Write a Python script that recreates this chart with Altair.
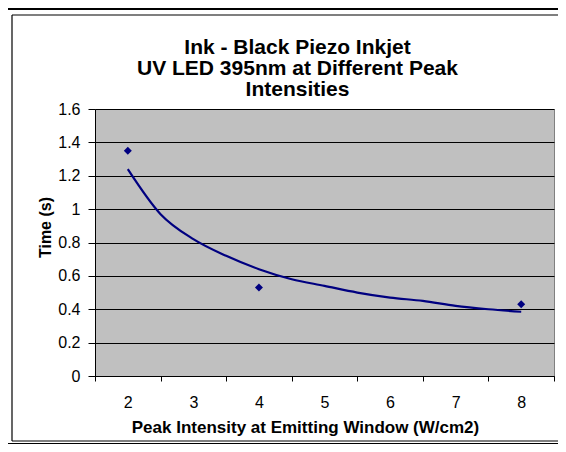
import altair as alt
import pandas as pd

# measured points
intensity = [2, 4, 8]
time_s = [1.35, 0.53, 0.43]

# trendline
trend_x = [2, 2.5, 3, 3.5, 4, 4.5, 5, 5.5, 6, 6.5, 7, 7.5, 8]
trend_y = [1.24, 0.97, 0.82, 0.72, 0.64, 0.58, 0.54, 0.50, 0.47, 0.45, 0.42, 0.40, 0.385]

x_ticks = [1.5, 2, 2.5, 3, 3.5, 4, 4.5, 5, 5.5, 6, 6.5, 7, 7.5, 8, 8.5]
y_ticks = [0, 0.2, 0.4, 0.6, 0.8, 1.0, 1.2, 1.4, 1.6]

title_lines = ["Ink - Black Piezo Inkjet", "UV LED 395nm at Different Peak", "Intensities"]
x_title = "Peak Intensity at Emitting Window (W/cm2)"
y_title = "Time (s)"

pts = pd.DataFrame({"x": intensity, "y": time_s})
trend = pd.DataFrame({"x": trend_x, "y": trend_y})

FONT = "Liberation Sans"
NAVY = "#000080"

x_enc = alt.X(
    "x:Q",
    scale=alt.Scale(domain=[1.5, 8.5], nice=False, zero=False),
    axis=alt.Axis(
        title=x_title,
        values=x_ticks,
        labelExpr="datum.value % 1 === 0 ? format(datum.value, 'd') : ''",
        tickOpacity={"condition": {"test": "datum.value % 1 === 0", "value": 0}, "value": 1},
        labelOverlap=False,
        labelFlush=False,
        grid=False,
        tickSize=5,
        tickColor="black",
        domainColor="black",
        labelFont=FONT,
        labelFontSize=16,
        labelColor="black",
        labelBaseline="alphabetic",
        labelPadding=26,
        titleFont=FONT,
        titleFontSize=17,
        titleFontWeight="bold",
        titleColor="black",
        titleX=210,
        titleY=56,
        titleBaseline="alphabetic",
        titleAlign="center",
    ),
)
y_enc = alt.Y(
    "y:Q",
    scale=alt.Scale(domain=[0, 1.6], nice=False),
    axis=alt.Axis(
        title=y_title,
        values=y_ticks,
        format="~g",
        labelOverlap=False,
        grid=True,
        gridColor="black",
        gridWidth=1,
        tickSize=7,
        tickColor="black",
        domainColor="black",
        labelFont=FONT,
        labelFontSize=16,
        labelColor="black",
        labelPadding=8,
        titleFont=FONT,
        titleFontSize=16,
        titleFontWeight="bold",
        titleColor="black",
        titleAngle=270,
        titleX=-50,
        titleY=118,
        titleBaseline="middle",
        titleAlign="center",
    ),
)

line = alt.Chart(trend).mark_line(color=NAVY, strokeWidth=2.2, interpolate="monotone").encode(x=x_enc, y=y_enc)
points = alt.Chart(pts).mark_point(shape="diamond", filled=True, color=NAVY, size=64, opacity=1).encode(x=x_enc, y=y_enc)

frame_df = pd.DataFrame({"k": [0]})
frame_top = alt.Chart(frame_df).mark_rule(color="black", strokeWidth=1.2).encode(
    x=alt.value(-83), x2=alt.value(463), y=alt.value(-94)
)
frame_left = alt.Chart(frame_df).mark_rule(color="black", strokeWidth=1.2).encode(
    x=alt.value(-83), y=alt.value(-94), y2=alt.value(332)
)
frame_bottom = alt.Chart(frame_df).mark_rule(color="black", strokeWidth=1.2).encode(
    x=alt.value(-83), x2=alt.value(463), y=alt.value(332)
)
bottom_band = alt.Chart(frame_df).mark_rect(color="black").encode(
    x=alt.value(-90), x2=alt.value(463), y=alt.value(334), y2=alt.value(340)
)
top_band = alt.Chart(frame_df).mark_rect(color="black").encode(
    x=alt.value(-90), x2=alt.value(463), y=alt.value(-102), y2=alt.value(-99)
)

chart = (
    alt.layer(frame_top, frame_left, frame_bottom, bottom_band, top_band, line, points)
    .properties(
        width=459,
        height=267,
        autosize=alt.AutoSizeParams(type="none"),
        padding={"left": 87, "top": 101, "right": 4, "bottom": 68},
        background="white",
        title=alt.TitleParams(
            text=title_lines,
            font=FONT,
            fontSize=21,
            fontWeight="bold",
            color="black",
            anchor="middle",
            frame="group",
            lineHeight=21,
            baseline="bottom",
            offset=10,
            dy=124,
            dx=-27,
        ),
    )
    .configure_view(fill="#C0C0C0", stroke="#808080", strokeWidth=1)
)

chart.save("out.html", embed_options={"renderer": "svg", "actions": False})
